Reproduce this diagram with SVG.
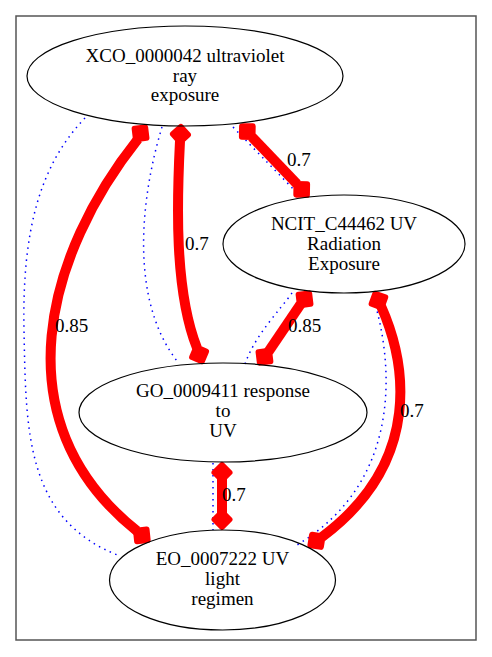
<svg xmlns="http://www.w3.org/2000/svg" xmlns:xlink="http://www.w3.org/1999/xlink" width="492" height="657" viewBox="0 0 492 657">
<style>
.node ellipse{fill:none;stroke:#000;stroke-width:1.2}
text{font-family:'Liberation Serif','Times New Roman',serif;font-size:19px;fill:#000}
.node text{text-anchor:middle}
.red{fill:none;stroke:#ff0000;stroke-width:10}
.blue{fill:none;stroke:#0000ff;stroke-width:1.5;stroke-dasharray:1.5,4.5}
.head{fill:#ff0000;stroke:#ff0000;stroke-width:6;stroke-linejoin:round}
</style>
<defs>
<path id="dia" d="M3,0 L10.5,7.5 L18,0 L10.5,-7.5 Z"/>
</defs>
<rect x="0" y="0" width="492" height="657" fill="#fff"/>
<rect x="16" y="16" width="460" height="624" fill="none" stroke="#555" stroke-width="1.5"/>
<g id="connectors">
<path class="blue" d="M233,127 C255,150 275,170 296,192"/>
<path class="red" d="M252,137 L297,184"/>
<use xlink:href="#dia" class="head" transform="translate(240,124) rotate(46)"/>
<use xlink:href="#dia" class="head" transform="translate(309,197) rotate(226)"/>
<text x="287" y="166">0.7</text>

<path class="blue" d="M162,127 C140,200 130,300 177,361"/>
<path class="red" d="M180,141 C177,200 174,290 197,348"/>
<use xlink:href="#dia" class="head" transform="translate(181,124) rotate(93)"/>
<use xlink:href="#dia" class="head" transform="translate(203,364) rotate(248)"/>
<text x="185" y="250">0.7</text>

<path class="blue" d="M85,118 C40,165 22,230 24,330 C26,430 25,520 120,556"/>
<path class="red" d="M138,139 C48,252 -2,420 137,531"/>
<use xlink:href="#dia" class="head" transform="translate(147,125) rotate(128)"/>
<use xlink:href="#dia" class="head" transform="translate(150,542) rotate(219)"/>
<text x="55" y="332">0.85</text>

<path class="blue" d="M292,293 C280,310 255,335 245,364"/>
<path class="red" d="M300.5,304.4 L268.5,351.6"/>
<use xlink:href="#dia" class="head" transform="translate(311,291) rotate(128)"/>
<use xlink:href="#dia" class="head" transform="translate(258,365) rotate(308)"/>
<text x="288" y="332">0.85</text>

<path class="blue" d="M374,300 C392,360 405,480 297,545"/>
<path class="red" d="M381,306 C405,360 425,460 322,537"/>
<use xlink:href="#dia" class="head" transform="translate(374,291) rotate(65)"/>
<use xlink:href="#dia" class="head" transform="translate(308,547) rotate(-36)"/>
<text x="400" y="417">0.7</text>

<path class="blue" d="M213,463 L213,530"/>
<path class="red" d="M222,479 L222,513"/>
<use xlink:href="#dia" class="head" transform="translate(222,462) rotate(90)"/>
<use xlink:href="#dia" class="head" transform="translate(222,530) rotate(270)"/>
<text x="222" y="501">0.7</text>
</g>
<g id="XCO_0000042" class="node">
<ellipse cx="185" cy="76" rx="158" ry="50"/>
<text x="185" y="62">XCO_0000042 ultraviolet</text>
<text x="185" y="82">ray</text>
<text x="185" y="101">exposure</text>
</g>
<g id="NCIT_C44462" class="node">
<ellipse cx="344" cy="244" rx="121" ry="49"/>
<text x="344" y="230">NCIT_C44462 UV</text>
<text x="344" y="250">Radiation</text>
<text x="344" y="270">Exposure</text>
</g>
<g id="GO_0009411" class="node">
<ellipse cx="223" cy="412.5" rx="144" ry="49.5"/>
<text x="223" y="397">GO_0009411 response</text>
<text x="223" y="417">to</text>
<text x="223" y="437">UV</text>
</g>
<g id="EO_0007222" class="node">
<ellipse cx="222.5" cy="580" rx="113" ry="50"/>
<text x="222.5" y="565">EO_0007222 UV</text>
<text x="222.5" y="585">light</text>
<text x="222.5" y="605">regimen</text>
</g>
</svg>
